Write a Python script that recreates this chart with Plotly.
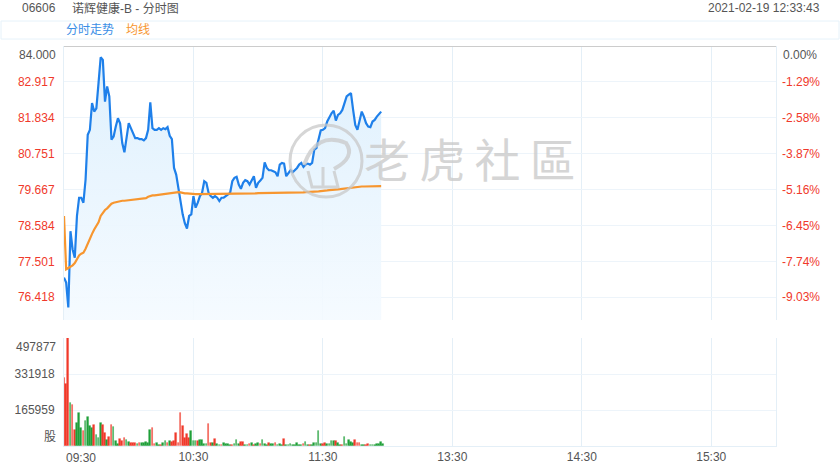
import plotly.graph_objects as go

# ---------------- data ----------------
prev_close = 84.000
price_ticks = [84.000, 82.917, 81.834, 80.751, 79.667, 78.584, 77.501, 76.418]
pct_labels = ["0.00%", "-1.29%", "-2.58%", "-3.87%", "-5.16%", "-6.45%", "-7.74%", "-9.03%"]
vol_ticks = [0, 165959, 331918, 497877]
vol_labels = ["股", "165959", "331918", "497877"]
time_ticks = [0, 60, 120, 180, 240, 300]
time_labels = ["09:30", "10:30", "11:30", "13:30", "14:30", "15:30"]

# one value per trading minute from 09:30 (lunch break removed)
price = [
    77.01, 76.86, 76.11, 78.41, 77.86, 77.61, 78.87, 79.42, 79.42, 79.27,
    79.97, 81.32, 81.47, 82.28, 82.02, 82.12, 82.88, 83.66, 83.58, 82.32,
    82.78, 82.48, 81.17, 81.27, 81.57, 81.82, 81.67, 81.07, 80.79, 81.17,
    81.67, 81.52, 81.37, 81.22, 81.22, 81.19, 81.19, 81.15, 81.22, 81.47,
    82.30, 81.52, 81.47, 81.47, 81.52, 81.47, 81.52, 81.49, 81.55, 81.29,
    81.19, 80.32, 80.12, 79.67, 79.27, 78.92, 78.65, 78.49, 78.87, 78.92,
    79.47, 79.12, 79.27, 79.47, 79.57, 79.92, 79.87, 79.57, 79.47, 79.42,
    79.47, 79.42, 79.32, 79.42, 79.42,
    79.47, 79.52, 79.57, 79.92, 80.02, 80.05, 79.82, 79.69, 79.87, 79.95,
    79.92, 79.82, 79.97, 80.07, 79.72, 79.87, 79.94, 80.02, 80.49, 80.32,
    80.25, 80.25, 80.22, 80.19, 80.07, 80.42, 80.47, 80.45, 80.07, 80.17,
    80.25, 80.19, 80.25, 80.32, 80.42, 80.47, 80.35, 80.42, 80.45, 80.42,
    80.47,
    80.87, 80.92, 81.22, 81.45, 81.47, 81.52, 81.72, 81.87, 81.97, 82.05,
    81.75, 81.92, 81.97, 82.07, 82.28, 82.48, 82.53, 82.58, 82.07, 81.62,
    81.47, 81.72, 82.02, 81.87, 81.67, 81.57, 81.55, 81.72, 81.77, 81.87,
    81.95, 82.02,
]

avg_price = [
    78.87, 77.26, 77.30, 77.33, 77.38, 77.45, 77.55, 77.68, 77.73, 77.76,
    77.88, 78.04, 78.17, 78.33, 78.46, 78.56, 78.68, 78.87, 78.96, 79.05,
    79.10, 79.18, 79.24, 79.27, 79.29, 79.30, 79.32, 79.33, 79.33, 79.34,
    79.35, 79.36, 79.37, 79.37, 79.38, 79.39, 79.40, 79.40, 79.41, 79.45,
    79.48, 79.49, 79.49, 79.50, 79.50, 79.51, 79.52, 79.53, 79.54, 79.55,
    79.57, 79.58, 79.59, 79.59, 79.58, 79.56, 79.55, 79.55, 79.54, 79.54,
    79.54, 79.53, 79.53, 79.53, 79.53, 79.54, 79.54, 79.54, 79.54, 79.54,
    79.54, 79.54, 79.54, 79.54, 79.54, 79.54, 79.54, 79.54, 79.55, 79.55,
    79.55, 79.55, 79.55, 79.55, 79.55, 79.55, 79.55, 79.55, 79.55, 79.55,
    79.56, 79.56, 79.56, 79.56, 79.56, 79.56, 79.56, 79.56, 79.56, 79.57,
    79.57, 79.57, 79.57, 79.57, 79.57, 79.57, 79.58, 79.58, 79.58, 79.58,
    79.58, 79.58, 79.59, 79.59, 79.59, 79.59, 79.59, 79.60, 79.61, 79.62,
    79.62, 79.63, 79.64, 79.65, 79.65, 79.66, 79.67, 79.67, 79.68, 79.69,
    79.70, 79.71, 79.72, 79.73, 79.74, 79.75, 79.75, 79.75, 79.76, 79.76,
    79.76, 79.76, 79.76, 79.77, 79.77, 79.77, 79.77, 79.77,
]

volume = [
    312000, 286000, 497877, 197000, 189000, 74000, 104000, 151000, 81000, 71000,
    117000, 135000, 92000, 85000, 97000, 49000, 38000, 104000, 95000, 58000,
    28000, 40000, 97000, 86000, 23000, 8000, 32000, 22000, 35000, 28000,
    17000, 12000, 15000, 12000, 9000, 12000, 12000, 12000, 20000, 12000,
    74000, 81000, 9000, 12000, 6000, 5000, 12000, 23000, 12000, 23000,
    17000, 23000, 58000, 15000, 151000, 92000, 35000, 54000, 35000, 69000,
    25000, 23000, 23000, 28000, 28000, 9000, 8000, 100000, 12000, 12000,
    31000, 8000, 6000, 3000, 12000, 8000, 8000, 5000, 5000, 8000,
    28000, 9000, 18000, 18000, 5000, 5000, 11000, 12000, 6000, 11000,
    12000, 8000, 28000, 9000, 5000, 12000, 9000, 9000, 12000, 5000,
    8000, 5000, 34000, 5000, 5000, 8000, 5000, 5000, 12000, 5000,
    5000, 8000, 18000, 5000, 3000, 3000, 12000, 15000, 69000, 9000,
    8000, 14000, 9000, 9000, 23000, 23000, 23000, 12000, 3000, 3000,
    43000, 9000, 28000, 18000, 12000, 28000, 12000, 15000, 6000, 5000,
    3000, 8000, 5000, 5000, 6000, 8000, 11000, 20000, 11000,
]

# 'r' = up minute (red), 'g' = down minute (green)
vol_dir = (
    "rrrgrrgggr" "ggggrgggrr" "grrgggrrrg" "grrrgrgggg" "grrggrggrg"
    "rrrrrrrrrg" "ggrggggrrg" "rggrggggrg" "ggrrggrgrg" "grgggrggrg"
    "ggrggggggg" "grggrggggg" "rrggggrggr" "gggggrrrgg" "rrggggggg"
)

# ---------------- styling ----------------
W, H = 840, 470
L, R, T, B = 64, 64, 46, 24
PW, PH = W - L - R, H - T - B
FONT = "Arial, Liberation Sans, Noto Sans CJK SC, sans-serif"
RED, GREEN, GRAY = "#f0392b", "#1fa03a", "#555555"
BLUE_LINE, ORANGE = "#1f80ea", "#f7962f"
GRID = "#edf4fa"
VGRID = "#e4eff7"


def px_x(p):
    """window pixel x -> paper coordinate"""
    return (p - L) / PW


def px_y(p):
    """window pixel y -> paper coordinate"""
    return (H - B - p) / PH


price_bottom = 75.73
price_dom = [px_y(320), 1.0]
vol_dom = [0.0, px_y(338)]

minutes = list(range(len(price)))
vol_minutes = list(range(len(volume)))

fig = go.Figure()

fig.add_trace(go.Scatter(
    x=minutes, y=price, mode="lines", xaxis="x", yaxis="y",
    line=dict(color=BLUE_LINE, width=2.2), fill="tozeroy",
    fillgradient=dict(type="vertical", start=price_bottom, stop=83.7,
                      colorscale=[[0, "rgba(244,250,255,0.9)"], [1, "rgba(222,240,253,1)"]]),
    hoverinfo="skip", showlegend=False,
))
fig.add_trace(go.Scatter(
    x=minutes, y=avg_price, mode="lines", xaxis="x", yaxis="y",
    line=dict(color=ORANGE, width=2.2), hoverinfo="skip", showlegend=False,
))
# carrier for the percent axis (invisible)
fig.add_trace(go.Scatter(
    x=minutes, y=price, mode="lines", xaxis="x", yaxis="y3",
    line=dict(color="rgba(0,0,0,0)", width=0), hoverinfo="skip", showlegend=False,
))

bar_colors = [RED if c == "r" else GREEN for c in vol_dir]
edge_colors = ["rgba(240,57,43,0.35)" if c == "r" else "rgba(31,160,58,0.35)" for c in vol_dir]
fig.add_trace(go.Bar(
    x=vol_minutes, y=volume, xaxis="x2", yaxis="y2", width=0.78,
    marker=dict(color=bar_colors, line=dict(color=edge_colors, width=0.8)),
    hoverinfo="skip", showlegend=False,
))

price_tt = [""] + [f'<span style="color:{RED}">{v:.3f}</span>' for v in price_ticks[1:]]
pct_tt = [""] + [f'<span style="color:{RED}">{s}</span>' for s in pct_labels[1:]]

common_x = dict(range=[0, 330], tickvals=time_ticks, showgrid=True, gridcolor=VGRID,
                gridwidth=1, zeroline=False, fixedrange=True, automargin=False)

fig.update_layout(
    width=W, height=H,
    margin=dict(l=L, r=R, t=T, b=B, pad=0, autoexpand=False),
    paper_bgcolor="white", plot_bgcolor="white",
    font=dict(family=FONT, size=12, color=GRAY),
    bargap=0,
    xaxis=dict(**common_x, domain=[0, 1], anchor="y", showticklabels=False, showline=False),
    xaxis2=dict(**common_x, domain=[0, 1], anchor="y2", matches="x",
                ticktext=[""] + time_labels[1:], ticks="", showline=True,
                linecolor=VGRID, linewidth=1, tickfont=dict(size=12, color=GRAY)),
    yaxis=dict(domain=price_dom, range=[price_bottom, prev_close], anchor="x",
               tickvals=price_ticks, ticktext=price_tt, showgrid=True, gridcolor=GRID,
               zeroline=False, showline=True, linecolor=VGRID, mirror=True,
               ticks="", ticklabelstandoff=6, tickfont=dict(size=12), automargin=False),
    yaxis3=dict(range=[price_bottom, prev_close], overlaying="y", side="right", anchor="x",
                tickvals=price_ticks, ticktext=pct_tt, showgrid=False, zeroline=False,
                ticks="", ticklabelstandoff=5, tickfont=dict(size=12), automargin=False),
    yaxis2=dict(domain=vol_dom, range=[0, 497877], anchor="x2",
                tickvals=vol_ticks, ticktext=["", vol_labels[1], vol_labels[2], ""],
                showgrid=True, gridcolor=GRID, zeroline=False, showline=True,
                linecolor=VGRID, mirror=True, ticks="", ticklabelstandoff=6,
                tickfont=dict(size=12, color=GRAY), automargin=False),
)

# previous close line
fig.add_shape(type="line", xref="paper", yref="y", x0=0, x1=1, y0=prev_close, y1=prev_close,
              line=dict(color="#cccccc", width=2), layer="above")

# legend strip box
fig.add_shape(type="rect", xref="paper", yref="paper",
              x0=px_x(1), x1=px_x(839), y0=px_y(39), y1=px_y(21),
              line=dict(color="#e6f2fa", width=1), fillcolor="rgba(0,0,0,0)")

# watermark
cx, cy, rr = 326, 161, 36
WM = "rgba(200,200,200,0.75)"
fig.add_shape(type="circle", xref="paper", yref="paper",
              x0=px_x(cx - rr), x1=px_x(cx + rr), y0=px_y(cy + rr), y1=px_y(cy - rr),
              line=dict(color=WM, width=3), layer="above")
fig.add_shape(type="path", xref="paper", yref="paper",
              path=(f"M {px_x(cx-22)},{px_y(cy+4)} Q {px_x(cx-10)},{px_y(cy-30)} {px_x(cx+20)},{px_y(cy-18)} "
                    f"Q {px_x(cx+30)},{px_y(cy-4)} {px_x(cx+8)},{px_y(cy+8)}"),
              line=dict(color=WM, width=4), layer="above")
fig.add_shape(type="path", xref="paper", yref="paper",
              path=(f"M {px_x(cx-18)},{px_y(cy+10)} L {px_x(cx-14)},{px_y(cy+26)} L {px_x(cx+12)},{px_y(cy+26)} "
                    f"L {px_x(cx+8)},{px_y(cy+10)} M {px_x(cx-3)},{px_y(cy+6)} L {px_x(cx-3)},{px_y(cy+26)}"),
              line=dict(color=WM, width=3), layer="above")

anns = [
    dict(text="老\u2009虎\u2009社\u2009區", x=px_x(470), y=px_y(161), font=dict(size=46, color=WM),
         xanchor="center", yanchor="middle"),
    dict(text="06606", x=px_x(20), y=px_y(8), xanchor="left", yanchor="middle",
         font=dict(size=12, color=GRAY)),
    dict(text="诺辉健康-B - 分时图", x=px_x(70), y=px_y(8), xanchor="left", yanchor="middle",
         font=dict(size=12, color=GRAY)),
    dict(text="2021-02-19 12:33:43", x=px_x(822), y=px_y(8), xanchor="right", yanchor="middle",
         font=dict(size=12, color=GRAY)),
    dict(text="分时走势", x=px_x(64), y=px_y(30), xanchor="left", yanchor="middle",
         font=dict(size=12, color="#3a8ee6")),
    dict(text="均线", x=px_x(124), y=px_y(30), xanchor="left", yanchor="middle",
         font=dict(size=12, color=ORANGE)),
]
for a in anns:
    fig.add_annotation(xref="paper", yref="paper", showarrow=False, **a)

# edge tick labels pushed inside their panels
fig.add_annotation(xref="paper", yref="y", x=0, y=price_ticks[0], text=f"{price_ticks[0]:.3f}",
                   xanchor="right", yanchor="top", xshift=-6, showarrow=False,
                   font=dict(size=12, color=GRAY))
fig.add_annotation(xref="paper", yref="y", x=1, y=price_ticks[0], text=pct_labels[0],
                   xanchor="left", yanchor="top", xshift=5, showarrow=False,
                   font=dict(size=12, color=GRAY))
fig.add_annotation(xref="paper", yref="y2", x=0, y=vol_ticks[3], text=vol_labels[3],
                   xanchor="right", yanchor="top", xshift=-6, showarrow=False,
                   font=dict(size=12, color=GRAY))
fig.add_annotation(xref="paper", yref="y2", x=0, y=vol_ticks[0], text=vol_labels[0],
                   xanchor="right", yanchor="bottom", xshift=-6, showarrow=False,
                   font=dict(size=12, color=GRAY))
fig.add_annotation(xref="x2", yref="paper", x=time_ticks[0], y=0, text=time_labels[0],
                   xanchor="left", yanchor="top", yshift=-3, showarrow=False,
                   font=dict(size=12, color=GRAY))

# remove the browser's default page margin so the figure fills the 840x470 window
fig.write_html("out.html", config={"displayModeBar": False},
               post_script="document.body.style.margin='0px';")
